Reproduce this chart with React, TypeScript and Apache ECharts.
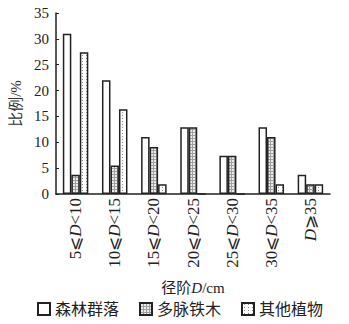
import React, { useEffect, useRef } from "react";
import * as echarts from "echarts";

const categories = ["5⩽D<10", "10⩽D<15", "15⩽D<20", "20⩽D<25", "25⩽D<30", "30⩽D<35", "D⩾35"];
const forest = [31, 22, 11, 12.9, 7.4, 12.9, 3.7];
const tieMu = [3.7, 5.5, 9.1, 12.9, 7.4, 11, 1.9];
const others = [27.4, 16.4, 1.9, 0, 0, 1.9, 1.9];
const seriesNames = ["森林群落", "多脉铁木", "其他植物"];

function gridPattern(): HTMLCanvasElement {
  const c = document.createElement("canvas");
  c.width = 3;
  c.height = 3;
  const ctx = c.getContext("2d")!;
  ctx.fillStyle = "#ebebeb";
  ctx.fillRect(0, 0, 3, 3);
  ctx.fillStyle = "#a0a0a0";
  ctx.fillRect(0, 0, 3, 1);
  ctx.fillRect(0, 0, 1, 3);
  return c;
}

function dotPattern(): HTMLCanvasElement {
  const c = document.createElement("canvas");
  c.width = 4;
  c.height = 3;
  const ctx = c.getContext("2d")!;
  ctx.fillStyle = "#ffffff";
  ctx.fillRect(0, 0, 4, 3);
  ctx.fillStyle = "#8a8a8a";
  ctx.fillRect(2, 1, 1, 1);
  return c;
}

function fmtLabel(v: string): string {
  const i = v.indexOf("D");
  const pre = v.slice(0, i);
  const post = v.slice(i + 1);
  let s = "";
  if (pre) s += `{a|${pre}}`;
  s += `{i|D}`;
  if (post) s += `{a|${post}}`;
  return s;
}

const serif = "'Liberation Serif', 'DejaVu Serif', 'Noto Sans CJK SC', serif";

export default function App() {
  const ref = useRef<HTMLDivElement>(null);
  useEffect(() => {
    if (!ref.current) return;
    const chart = echarts.init(ref.current, null, { renderer: "svg" });
    const fills: any[] = [
      "#ffffff",
      { image: gridPattern(), repeat: "repeat" },
      { image: dotPattern(), repeat: "repeat" },
    ];
    const datas = [forest, tieMu, others];
    chart.setOption({
      animation: false,
      backgroundColor: "#ffffff",
      grid: { left: 52, right: 19, top: 13, bottom: 130 },
      legend: {
        bottom: 2,
        left: 32,
        icon: "rect",
        itemWidth: 12,
        itemHeight: 12,
        itemGap: 20,
        textStyle: { fontFamily: serif, fontSize: 16, color: "#222" },
        data: seriesNames,
      },
      xAxis: {
        type: "category",
        data: categories,
        name: "{a|径阶}{i|D}{a|/cm}",
        nameLocation: "middle",
        nameGap: 86,
        nameTextStyle: {
          rich: {
            a: { fontFamily: serif, fontSize: 15, color: "#222" },
            i: { fontFamily: serif, fontSize: 15, fontStyle: "italic", color: "#222" },
          },
        },
        axisLine: { lineStyle: { color: "#222", width: 1.5 } },
        axisTick: { show: false },
        axisLabel: {
          rotate: 90,
          margin: 4,
          interval: 0,
          formatter: (v: string) => fmtLabel(v),
          rich: {
            a: { fontFamily: serif, fontSize: 17, color: "#222" },
            i: { fontFamily: serif, fontSize: 17, fontStyle: "italic", color: "#222" },
          },
        },
      },
      yAxis: {
        type: "value",
        min: 0,
        max: 35,
        interval: 5,
        name: "比例/%",
        nameLocation: "middle",
        nameGap: 33,
        nameRotate: 90,
        nameTextStyle: { fontFamily: serif, fontSize: 15, color: "#333" },
        splitLine: { show: false },
        axisLine: { show: true, lineStyle: { color: "#222", width: 1.5 } },
        axisTick: { show: true, inside: true, length: 3, lineStyle: { color: "#222" } },
        axisLabel: { fontFamily: serif, fontSize: 15, color: "#222", margin: 7 },
      },
      series: seriesNames.map((n, k) => ({
        name: n,
        type: "bar",
        data: datas[k],
        barWidth: 8.5,
        barGap: "0%",
        itemStyle: { color: fills[k], borderColor: "#222", borderWidth: 1.5 },
      })),
    });
    return () => chart.dispose();
  }, []);
  return <div ref={ref} style={{ width: 349, height: 324, marginLeft: -8, marginTop: -8 }} />;
}
